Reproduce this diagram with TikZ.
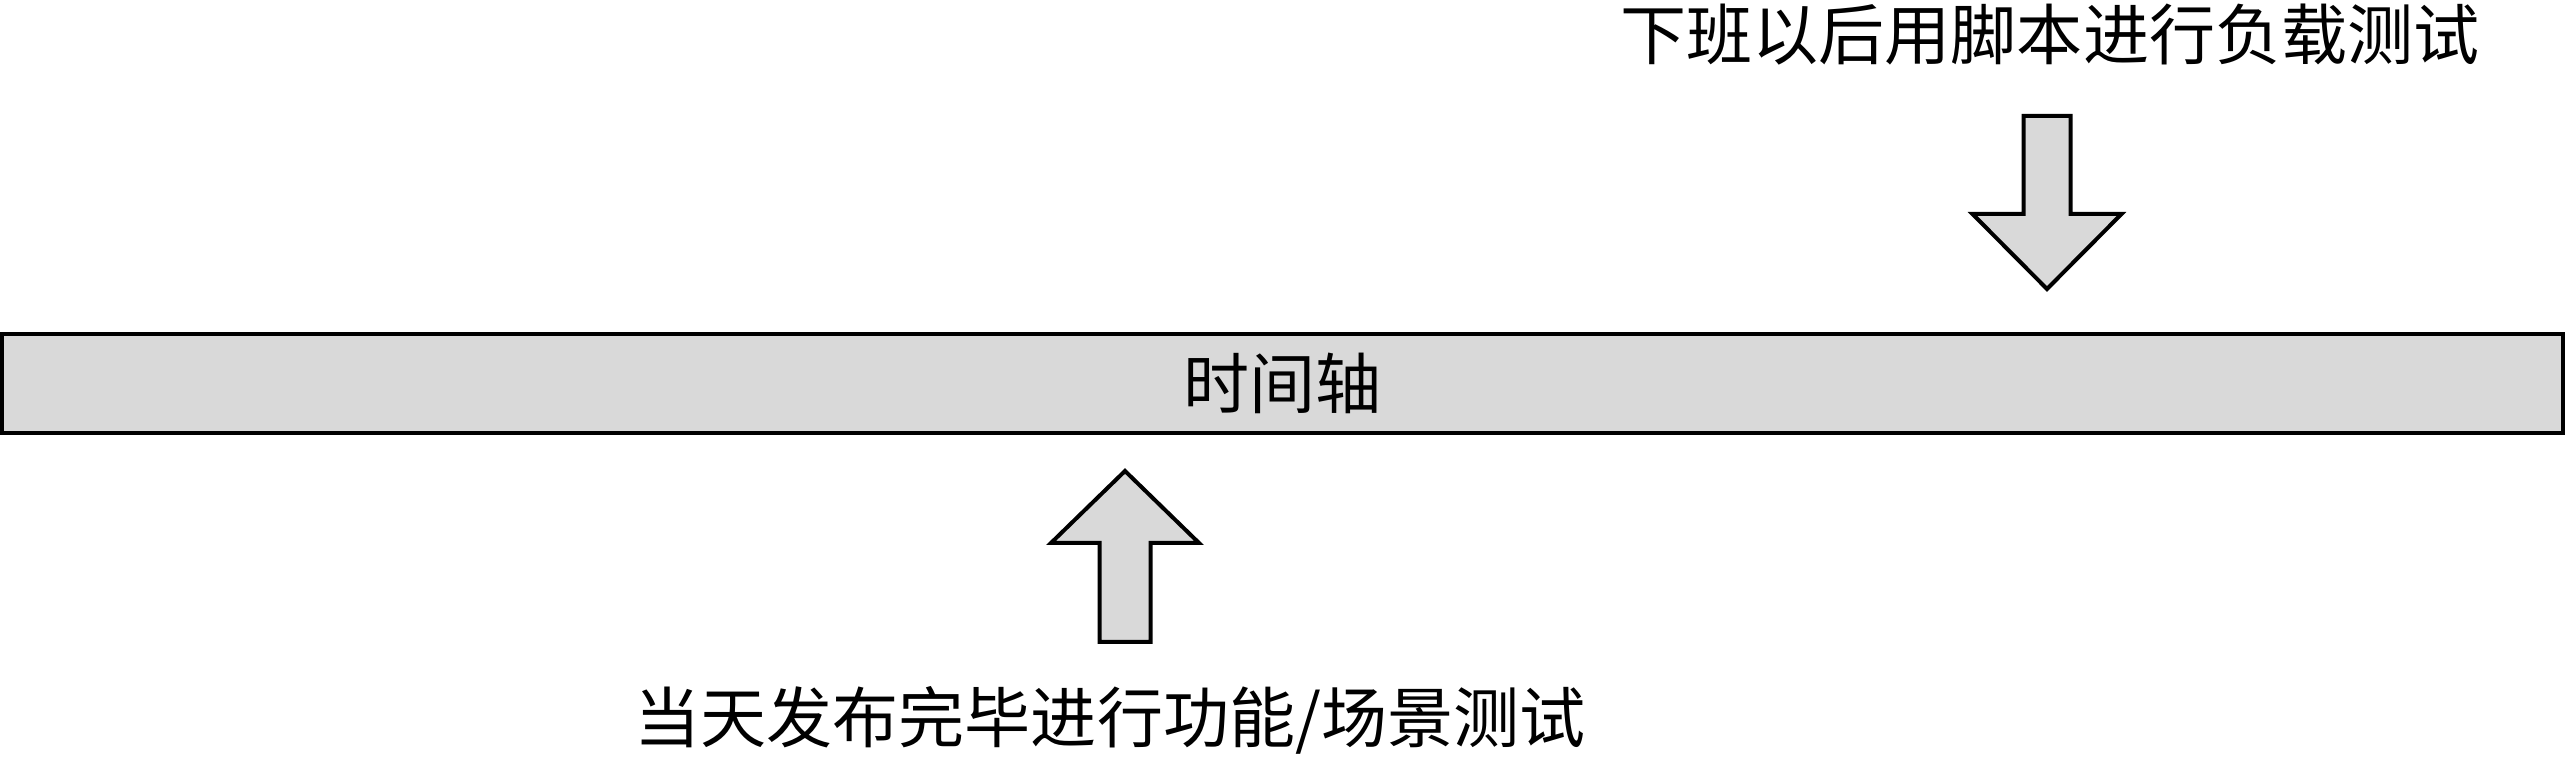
\documentclass[tikz,border=0pt]{standalone}
\usepackage{fontspec}
\newfontfamily\cjk{Noto Sans CJK SC}
\usepackage{tikz}
\usetikzlibrary{positioning}

\begin{document}
\begin{tikzpicture}[line width=0.04cm,
		label text/.style={font=\cjk\fontsize{18.8}{22}\selectfont, inner sep=0},
		time bar/.style={draw, fill=black!15, minimum width=25.61cm, minimum height=0.99cm, inner sep=0},
		block arrow/.style={draw, fill=black!15, line join=miter}]
		\useasboundingbox (0,0) rectangle (25.65,7.6);
		\node[time bar, label text] (axis) at (12.825,3.765) {时间轴};
		\node[label text] (load) at (20.50,7.25) {下班以后用脚本进行负载测试};
		\node[label text] (func) at (11.10,0.40) {当天发布完毕进行功能/场景测试};
		\coordinate (load_tail) at (20.47,6.44);
		\coordinate (func_tail) at (11.25,1.18);
		% arrow from the evening load test down to the time bar
		\draw[block arrow] (load_tail) ++(-0.235,0) -- ++(0.47,0) -- ++(0,-0.98) -- ++(0.51,0)
			-- ++(-0.745,-0.75) -- ++(-0.745,0.75) -- ++(0.51,0) -- cycle;
		% arrow from the daytime function test up to the time bar
		\draw[block arrow] (func_tail) ++(-0.255,0) -- ++(0.51,0) -- ++(0,0.99) -- ++(0.485,0)
			-- ++(-0.74,0.72) -- ++(-0.74,-0.72) -- ++(0.485,0) -- cycle;
	\end{tikzpicture}
\end{document}
